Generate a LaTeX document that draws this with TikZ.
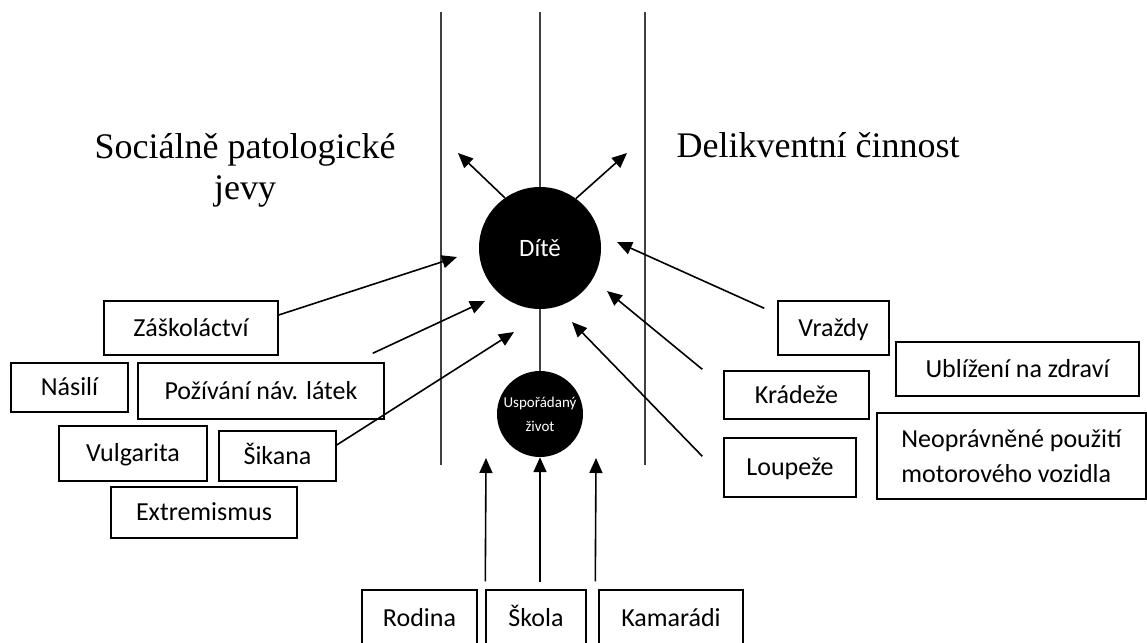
\documentclass[tikz,border=0pt]{standalone}
\usepackage{fontspec}
\setmainfont{Liberation Serif}
\newfontfamily\calibri{Carlito}
\usetikzlibrary{arrows.meta}

\begin{document}
\begin{tikzpicture}[x=1pt,y=-1pt]
	\tikzstyle{every node}=[inner sep=0pt]
	\tikzstyle{box}=[draw, line width=1.4pt, text height=20pt, text depth=4pt, font=\calibri\fontsize{26}{35}\selectfont]
	\tikzstyle{ball}=[circle, fill=black, text=white, font=\calibri\fontsize{25}{30}\selectfont]
	\tikzstyle{arr}=[line width=1.6pt, -{Triangle[length=15pt,width=13pt]}]
	\tikzstyle{lane}=[line width=1.4pt, black!75]
	\path[use as bounding box, clip] (0,0) rectangle (1147,642);

	\node[font=\fontsize{36}{41}\selectfont, align=center, anchor=north] (spj) at (245,133) {Sociálně patologické\\jevy};
	\node[font=\fontsize{36}{45}\selectfont, anchor=base] (delik) at (818,157) {Delikventní činnost};

	\node[ball, minimum size=122pt] (dite) at (540,248) {Dítě};
	\node[ball, minimum size=86pt, align=center, font=\calibri\fontsize{15}{24}\selectfont] (zivot) at (540,414) {Uspořádaný\\život};

	\draw[lane] (441,12) -- (441,465);
	\draw[lane] (645,12) -- (645,465);
	\draw[lane] (540,12) -- (dite.north);
	\draw[lane] (dite.south) -- (zivot.north);

	\node[box, minimum width=174pt, minimum height=54pt] (zask) at (191,328) {Záškoláctví};
	\node[box, minimum width=117pt, minimum height=49pt] (nasili) at (69.5,387.5) {Násilí};
	\node[box, minimum width=246pt, minimum height=56pt] (pozivani) at (261,391) {Požívání náv. látek};
	\node[box, minimum width=148pt, minimum height=55pt] (vulgarita) at (133,453.5) {Vulgarita};
	\node[box, minimum width=117pt, minimum height=50pt] (sikana) at (277.5,456) {Šikana};
	\node[box, minimum width=186pt, minimum height=51pt] (extrem) at (204,512.5) {Extremismus};

	\node[box, minimum width=111pt, minimum height=54pt] (vrazdy) at (833.5,328) {Vraždy};
	\node[box, minimum width=243pt, minimum height=54pt] (ublizeni) at (1017.5,369) {Ublížení na zdraví};
	\node[box, minimum width=145pt, minimum height=48pt] (kradeze) at (796.5,395) {Krádeže};
	\node[box, minimum width=132pt, minimum height=59pt] (loupeze) at (790,467.5) {Loupeže};
	\node[box, minimum width=269pt, minimum height=86pt, align=left, text height=, text depth=] (neopr) at (1011.5,456) {Neoprávněné použití\\motorového vozidla};

	\node[box, minimum width=115pt, minimum height=56pt] (rodina) at (419.5,618) {Rodina};
	\node[box, minimum width=100pt, minimum height=56pt] (skola) at (536,618) {Škola};
	\node[box, minimum width=144pt, minimum height=56pt] (kamaradi) at (671,618) {Kamarádi};

	\coordinate (socialni) at (458,153);
	\coordinate (delikvence) at (627,153);
	\draw[arr] (dite.125) -- (socialni);
	\draw[arr] (dite.54) -- (delikvence);

	\draw[arr] ([yshift=13pt]zask.east) -- (457,257);
	\draw[arr] ([shift={(-12,-9)}]pozivani.north east) -- (485,301);
	\draw[arr] ([yshift=11pt]sikana.east) -- (514,332);

	\draw[arr] ([shift={(-13,8)}]vrazdy.north west) -- (617,242);
	\draw[arr] ([shift={(-21,-1)}]kradeze.north west) -- (607,291);
	\draw[arr] ([shift={(-21,19)}]loupeze.north west) -- (572,322);

	\draw[arr] ([shift={(0,-8)}]skola.north west) -- (486,458);
	\draw[arr] (540,582) -- (zivot.south);
	\draw[arr] ([shift={(-3,-8)}]kamaradi.north west) -- (596,458);
\end{tikzpicture}
\end{document}
